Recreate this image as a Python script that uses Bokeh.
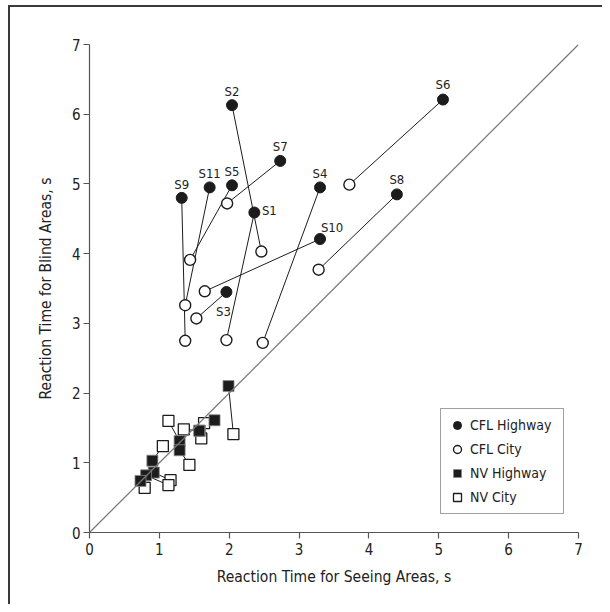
from bokeh.plotting import figure
from bokeh.models import (Range1d, FixedTicker, Slope, Legend, LegendItem,
                          ColumnDataSource)
from bokeh.core.properties import value
from bokeh.embed import file_html
from bokeh.resources import INLINE

# ---------------- data ----------------
subjects = ["S1", "S2", "S3", "S4", "S5", "S6", "S7", "S8", "S9", "S10", "S11"]
cfl_hwy_x = [2.36, 2.04, 1.96, 3.30, 2.04, 5.06, 2.73, 4.40, 1.32, 3.30, 1.72]
cfl_hwy_y = [4.59, 6.13, 3.45, 4.95, 4.98, 6.21, 5.33, 4.85, 4.80, 4.21, 4.95]
cfl_city_x = [1.96, 2.46, 1.53, 2.48, 1.44, 3.72, 1.97, 3.28, 1.37, 1.65, 1.37]
cfl_city_y = [2.76, 4.03, 3.07, 2.72, 3.91, 4.99, 4.72, 3.77, 2.75, 3.46, 3.26]

nv_hwy_x = [1.99, 1.79, 1.58, 1.57, 1.29, 1.29, 0.90, 0.92, 0.81, 0.73]
nv_hwy_y = [2.10, 1.61, 1.46, 1.46, 1.31, 1.18, 1.03, 0.86, 0.82, 0.74]
nv_city_x = [2.06, 1.64, 1.60, 1.35, 1.13, 1.43, 1.05, 1.16, 1.13, 0.79]
nv_city_y = [1.41, 1.57, 1.35, 1.48, 1.60, 0.97, 1.24, 0.75, 0.68, 0.64]

axis_ticks = [0, 1, 2, 3, 4, 5, 6, 7]
series_names = ["CFL Highway", "CFL City", "NV Highway", "NV City"]

# label placement (screen px offsets), styling only
label_dx = [15, 0, -3, 0, 0, 0, 0, 0, 0, 12, 0]
label_dy = [-2, -14, 20, -14, -14, -15, -14, -15, -13, -12, -14]

FONT = "DejaVu Sans Condensed"
INK = "#1c1c1c"
RULE = "#3a3a3a"

p = figure(width=602, height=604, output_backend="svg", toolbar_location=None,
           x_range=Range1d(0, 7), y_range=Range1d(0, 7),
           min_border_left=89, min_border_right=24,
           min_border_top=44, min_border_bottom=72)
p.outline_line_color = None
p.xgrid.visible = False
p.ygrid.visible = False
p.border_fill_alpha = 0
p.background_fill_color = "white"
# page frame: left and top rules drawn as the host element's background
p.styles = {
    "background-image": f"linear-gradient({RULE},{RULE}), linear-gradient({RULE},{RULE})",
    "background-size": "2px 599px, 594px 2px",
    "background-position": "8px 5px, 8px 5px",
    "background-repeat": "no-repeat, no-repeat",
    "overflow": "hidden",
}

for ax in (p.xaxis[0], p.yaxis[0]):
    ax.ticker = FixedTicker(ticks=axis_ticks)
    ax.minor_tick_line_color = None
    ax.axis_line_color = "#555555"
    ax.axis_line_width = 1.2
    ax.major_tick_line_color = "#555555"
    ax.major_tick_line_width = 1.2
    ax.major_tick_in = 0
    ax.major_tick_out = 6
    ax.major_label_text_font = FONT
    ax.major_label_text_font_size = "15px"
    ax.major_label_text_color = "#222222"
    ax.axis_label_text_font = FONT
    ax.axis_label_text_font_size = "15.5px"
    ax.axis_label_text_font_style = "normal"
    ax.axis_label_text_color = "#222222"

p.xaxis.axis_label = "Reaction Time for Seeing Areas, s"
p.yaxis.axis_label = "Reaction Time for Blind Areas, s"
p.xaxis.major_label_standoff = 4
p.xaxis.axis_label_standoff = 10
p.yaxis.major_label_standoff = 3
p.yaxis.axis_label_standoff = 14

# identity line
p.add_layout(Slope(gradient=1, y_intercept=0, line_color="#7a7a7a", line_width=1.3))

# connectors
p.segment(x0=cfl_hwy_x, y0=cfl_hwy_y, x1=cfl_city_x, y1=cfl_city_y,
          line_color=INK, line_width=1)
p.segment(x0=nv_hwy_x, y0=nv_hwy_y, x1=nv_city_x, y1=nv_city_y,
          line_color=INK, line_width=1)

r_cc = p.scatter(cfl_city_x, cfl_city_y, marker="circle", size=11,
                 fill_color="white", line_color=INK, line_width=1.4)
r_ch = p.scatter(cfl_hwy_x, cfl_hwy_y, marker="circle", size=11,
                 fill_color=INK, line_color=INK, line_width=1)
r_nc = p.scatter(nv_city_x, nv_city_y, marker="square", size=11,
                 fill_color="white", line_color=INK, line_width=1.3)
r_nh = p.scatter(nv_hwy_x, nv_hwy_y, marker="square", size=11,
                 fill_color=INK, line_color="#888888", line_width=0.8)

lab = ColumnDataSource(dict(x=cfl_hwy_x, y=cfl_hwy_y, t=subjects,
                            dx=label_dx, dy=label_dy))
p.text(x="x", y="y", text="t", x_offset="dx", y_offset="dy", source=lab,
       text_font=value(FONT), text_font_size="13px", text_color="#222222",
       text_align="center", text_baseline="middle")

legend = Legend(items=[
    LegendItem(label=series_names[0], renderers=[r_ch]),
    LegendItem(label=series_names[1], renderers=[r_cc]),
    LegendItem(label=series_names[2], renderers=[r_nh]),
    LegendItem(label=series_names[3], renderers=[r_nc]),
], location=(351, 18))
legend.label_text_font = FONT
legend.label_text_font_size = "14px"
legend.label_text_color = "#222222"
legend.border_line_color = "#444444"
legend.border_line_width = 1
legend.padding = 6
legend.spacing = 4
legend.margin = 0
legend.glyph_width = 20
legend.glyph_height = 20
legend.label_height = 20
legend.label_width = 87
legend.label_standoff = 3
p.add_layout(legend)

open("out.html", "w").write(file_html(p, INLINE))
